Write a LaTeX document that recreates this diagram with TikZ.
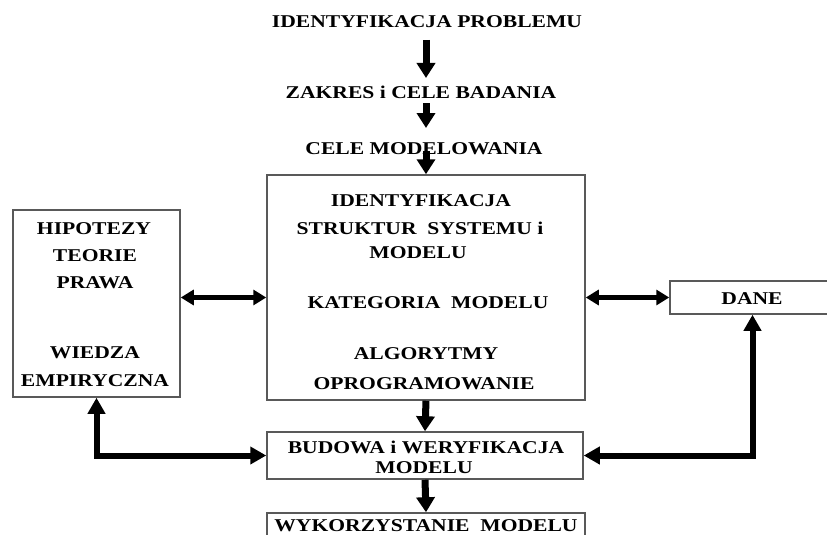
\documentclass[tikz,border=0pt]{standalone}
\usepackage{fontspec}
\setmainfont{Liberation Serif}[FakeStretch=1.2]
\usetikzlibrary{arrows.meta}
\begin{document}
\begin{tikzpicture}[x=1pt,y=-1pt,
  lbl/.style={inner sep=0pt, anchor=base, font=\bfseries\fontsize{18}{20}\selectfont},
  boxnode/.style={draw=black!65, line width=1.5pt, fill=white, inner sep=0pt},
  varrow/.style={line width=7pt, -{Triangle[width=18pt,length=15pt]}},
  darrow/.style={line width=4.5pt, {Triangle[width=15pt,length=13pt]}-{Triangle[width=15pt,length=13pt]}},
  elbow/.style={line width=6pt, line join=miter, {Triangle[width=17pt,length=16pt]}-{Triangle[width=17pt,length=16pt]}}
]
\clip (0,0) rectangle (827,535);
\fill[white] (0,0) rectangle (827,535);

% boxes
\node[boxnode, minimum width=318pt, minimum height=225pt] (main) at (426,287.5) {};
\node[boxnode, minimum width=167pt, minimum height=187pt] (left) at (96.5,303.5) {};
\node[boxnode, minimum width=165pt, minimum height=33pt] (dane) at (752.5,297.5) {};
\node[boxnode, minimum width=316pt, minimum height=47pt] (bud) at (425,455.5) {};
\node[boxnode, minimum width=318pt, minimum height=40pt] (wyk) at (426,533) {};

% top texts
\node[lbl] (t1) at (427,28) {IDENTYFIKACJA PROBLEMU};
\node[lbl] (t2) at (421,99) {ZAKRES i CELE BADANIA};
\node[lbl] (t3) at (424,154) {CELE MODELOWANIA};

% main box texts
\node[lbl] (m1) at (421,206) {IDENTYFIKACJA};
\node[lbl] (m2) at (420,234) {STRUKTUR\ \ SYSTEMU i};
\node[lbl] (m3) at (418,258) {MODELU};
\node[lbl] (m4) at (428,308) {KATEGORIA\ \ MODELU};
\node[lbl] (m5) at (426,359) {ALGORYTMY};
\node[lbl] (m6) at (424,389) {OPROGRAMOWANIE};

% left box texts
\node[lbl] (l1) at (94,234) {HIPOTEZY};
\node[lbl] (l2) at (95,261) {TEORIE};
\node[lbl] (l3) at (95,288) {PRAWA};
\node[lbl] (l4) at (95,358) {WIEDZA};
\node[lbl] (l5) at (95,386) {EMPIRYCZNA};

% other box texts
\node[lbl] (dt) at (752,304) {DANE};
\node[lbl] (b1) at (426,453) {BUDOWA i WERYFIKACJA};
\node[lbl] (b2) at (424,473) {MODELU};
\node[lbl] (w1) at (426,531) {WYKORZYSTANIE\ \ MODELU};

% vertical arrows
\draw[varrow] (main.north |- 0,40) -- (main.north |- 0,78);
\draw[varrow] (main.north |- 0,103) -- (main.north |- 0,128);
\draw[varrow] (main.north |- 0,151) -- (main.north);
\draw[varrow] (main.south) -- (bud.north);
\draw[varrow] (bud.south) -- (wyk.north);

% double arrows
\draw[darrow] (left.east |- dane.west) -- (main.west |- dane.west);
\draw[darrow] (main.east |- dane.west) -- (dane.west);

% elbow connectors
\draw[elbow] (left.south) -- (left.south |- bud.west) -- (bud.west);
\draw[elbow] (dane.south) -- (dane.south |- bud.east) -- (bud.east);
\end{tikzpicture}
\end{document}
